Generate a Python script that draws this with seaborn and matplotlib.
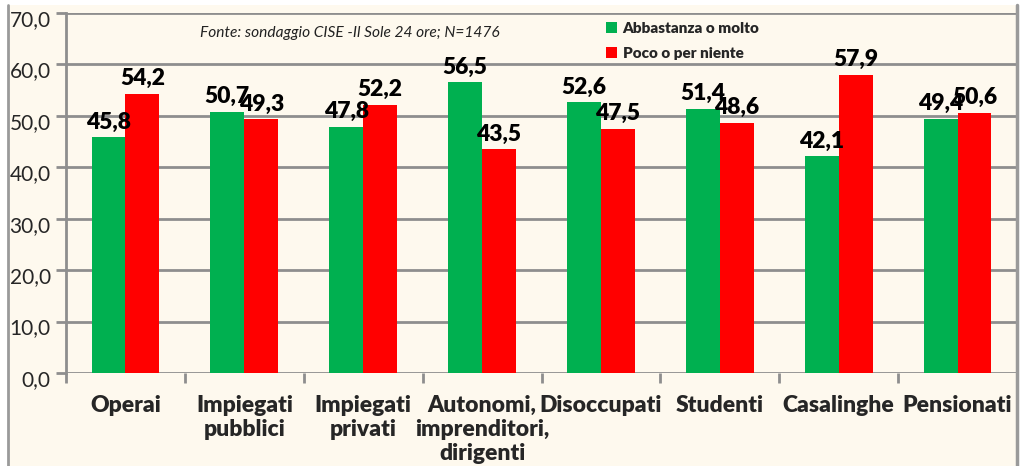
import matplotlib
matplotlib.use("Agg")
import matplotlib.pyplot as plt
import matplotlib.transforms as mtransforms
import seaborn as sns
import pandas as pd
from matplotlib.patches import Rectangle, Patch
from matplotlib.lines import Line2D

categories = ["Operai", "Impiegati\npubblici", "Impiegati\nprivati",
              "Autonomi,\nimprenditori,\ndirigenti", "Disoccupati", "Studenti",
              "Casalinghe", "Pensionati"]
series_names = ["Abbastanza o molto", "Poco o per niente"]
abbastanza = [45.8, 50.7, 47.8, 56.5, 52.6, 51.4, 42.1, 49.4]
poco = [54.2, 49.3, 52.2, 43.5, 47.5, 48.6, 57.9, 50.6]
y_ticks = [0, 10, 20, 30, 40, 50, 60, 70]
source = "Fonte: sondaggio CISE -Il Sole 24 ore; N=1476"

GREEN = "#00B050"
RED = "#FF0000"
BG = "#FEF9EE"
GRID = "#8E8E8E"

df = pd.DataFrame({
    "cat": categories * 2,
    "serie": [series_names[0]] * len(categories) + [series_names[1]] * len(categories),
    "val": abbastanza + poco,
})

sns.set_theme(style="white")
plt.rcParams["font.family"] = ["Lato", "DejaVu Sans"]

W, H = 1021, 466
fig = plt.figure(figsize=(W / 100, H / 100), dpi=100)
fig.patch.set_facecolor("white")
# chart frame
fig.patches.append(Rectangle((8 / W, -0.01), (1017 - 8) / W, (461 / H) + 0.01,
                             transform=fig.transFigure, facecolor=BG,
                             edgecolor="none", zorder=-5))
fig.add_artist(Line2D([8 / W, 8 / W], [0, 461 / H], color="#9A9A9A", lw=2,
                      transform=fig.transFigure, zorder=5))
fig.add_artist(Line2D([1017 / W, 1017 / W], [0, 461 / H], color="#9A9A9A", lw=2.5,
                      transform=fig.transFigure, zorder=5))

ax = fig.add_axes([66 / W, (H - 373) / H, (1017 - 66) / W, (373 - 13) / H])
ax.set_facecolor(BG)

sns.barplot(data=df, x="cat", y="val", hue="serie", order=categories,
            hue_order=series_names, palette=[GREEN, RED], width=0.57,
            dodge=True, ax=ax, legend=False, zorder=3, saturation=1,
            linewidth=0, edgecolor="none")

for cont in ax.containers:
    vals = [b.get_height() for b in cont]
    ax.bar_label(cont, labels=[f"{v:.1f}".replace(".", ",") for v in vals],
                 padding=3.5, fontsize=16.5, fontweight="heavy", color="black")

ax.set_ylim(0, 70)
ax.set_xlim(-0.5, len(categories) - 0.5)
ax.set_yticks(y_ticks)
ax.set_yticklabels([f"{t:.1f}".replace(".", ",") for t in y_ticks], fontsize=15)
ax.yaxis.grid(True, color=GRID, lw=2, zorder=0)
ax.set_axisbelow(True)
for s in ["top", "right", "bottom"]:
    ax.spines[s].set_visible(False)
ax.spines["left"].set_color(GRID)
ax.spines["left"].set_linewidth(2)
ax.tick_params(axis="y", length=7, width=2, color=GRID, pad=4, left=True)
shift = mtransforms.ScaledTranslation(0, -5 / 100, fig.dpi_scale_trans)
for lab in ax.get_yticklabels():
    lab.set_transform(lab.get_transform() + shift)

ax.set_xticks(range(len(categories)))
ax.set_xticklabels(categories, fontsize=16.5, fontweight="heavy", linespacing=1.17,
                   va="top")
ax.tick_params(axis="x", length=0, pad=16)
ax.set_xticks([i + 0.5 for i in range(-1, len(categories))], minor=True)
ax.tick_params(axis="x", which="minor", length=7, width=2, color=GRID, bottom=True)
ax.set_xlabel("")
ax.set_ylabel("")

fig.text(200 / W, 1 - 33 / H, source, fontsize=11.2, style="italic",
         va="center", ha="left", color="#222222")

handles = [Patch(facecolor=GREEN, edgecolor="none"), Patch(facecolor=RED, edgecolor="none")]
fig.legend(handles, series_names, loc="upper left",
           bbox_to_anchor=(592 / W, 1 - 8 / H), frameon=False,
           prop={"family": ["Lato", "DejaVu Sans"], "weight": "heavy", "size": 11},
           handlelength=0.75, handleheight=0.75, handletextpad=0.35, labelspacing=0.8)

fig.savefig("out.png", dpi=100, facecolor=fig.get_facecolor())
